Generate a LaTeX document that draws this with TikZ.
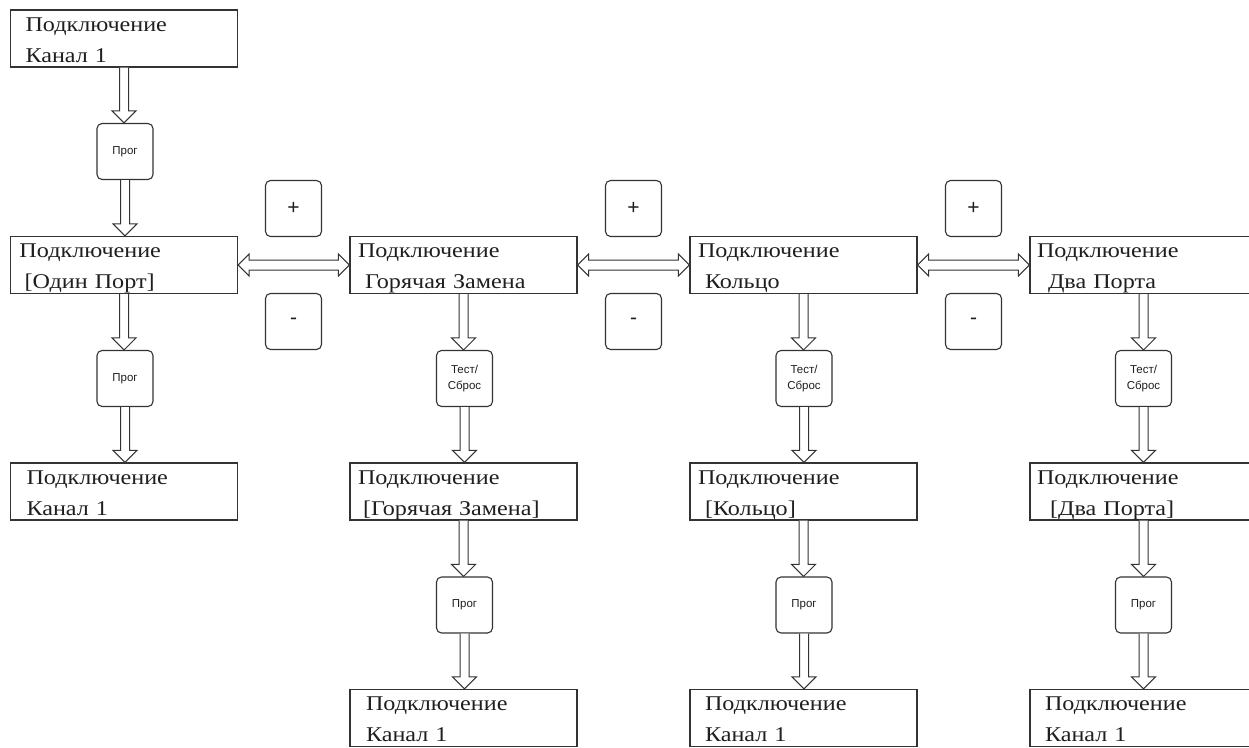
\documentclass[tikz,border=0pt]{standalone}
\usepackage{fontspec}
\setmainfont{Liberation Serif}
\newfontfamily\boxfont[FakeStretch=1.15]{Liberation Serif}
\newfontfamily\smallfont{Liberation Sans}
\usetikzlibrary{calc}
\definecolor{linec}{gray}{0.2}
\definecolor{textc}{gray}{0.12}
\tikzset{
  bigbox/.style={draw=linec, line width=1.2pt, rectangle, minimum width=227pt,
    minimum height=57pt, inner xsep=0pt, inner ysep=0pt, text width=227pt,
    align=left, font=\boxfont\fontsize{21}{31}\selectfont, text=textc},
  keybox/.style={draw=linec, line width=1.1pt, rounded corners=5pt, rectangle,
    minimum width=56pt, minimum height=56pt, inner sep=0pt, align=center,
    font=\smallfont\fontsize{11.5}{16}\selectfont, text=textc},
  pmbox/.style={keybox, font=\smallfont\fontsize{21}{21}\selectfont},
  blockarrow/.style={draw=linec, line width=1pt, fill=white},
}
\newcommand\bl[4]{\rule{0pt}{21pt}\hspace*{#1pt}Подключение\\\hspace*{#3pt}#4\rule[-5pt]{0pt}{5pt}}
\newcommand\varrow[2]{\draw[blockarrow] let \p1=(#1.south), \p2=(#2.north) in
  (\x1-4.5pt,\y1) -- (\x1-4.5pt,\y2+12pt) -- (\x1-12pt,\y2+12pt) -- (\x1,\y2)
  -- (\x1+12pt,\y2+12pt) -- (\x1+4.5pt,\y2+12pt) -- (\x1+4.5pt,\y1);}
\newcommand\harrow[2]{\draw[blockarrow] let \p1=(#1.east), \p2=(#2.west) in
  (\x1,\y1) -- (\x1+11pt,\y1+11pt) -- (\x1+11pt,\y1+5pt) -- (\x2-11pt,\y1+5pt)
  -- (\x2-11pt,\y1+11pt) -- (\x2,\y1) -- (\x2-11pt,\y1-11pt) -- (\x2-11pt,\y1-5pt)
  -- (\x1+11pt,\y1-5pt) -- (\x1+11pt,\y1-11pt) -- cycle;}
\begin{document}
\begin{tikzpicture}[x=1pt,y=-1pt]
\useasboundingbox[fill=white] (0,0) rectangle (1249,747);
% column 1
\node[bigbox] (a0) at (124,38.5) {\bl{15}{}{15}{Канал 1}};
\node[keybox] (p1) at (125,151.5) {Прог};
\node[bigbox] (a1) at (124,265) {\bl{9}{}{14}{[Один Порт]}};
\node[keybox] (p2) at (125,378.5) {Прог};
\node[bigbox] (a2) at (124,491.5) {\bl{16}{}{16}{Канал 1}};
% column 2
\node[bigbox] (b1) at (463.5,265) {\bl{8}{}{15}{Горячая Замена}};
\node[keybox] (t2) at (464.5,378.5) {Тест/\\Сброс};
\node[bigbox] (b2) at (463.5,491.5) {\bl{8}{}{13}{[Горячая Замена]}};
\node[keybox] (q2) at (464.5,605) {Прог};
\node[bigbox] (b3) at (463.5,718) {\bl{16}{}{16}{Канал 1}};
% column 3
\node[bigbox] (c1) at (803.5,265) {\bl{8}{}{15}{Кольцо}};
\node[keybox] (t3) at (804,378.5) {Тест/\\Сброс};
\node[bigbox] (c2) at (803.5,491.5) {\bl{8}{}{15}{[Кольцо]}};
\node[keybox] (q3) at (804,605) {Прог};
\node[bigbox] (c3) at (803.5,718) {\bl{15}{}{15}{Канал 1}};
% column 4
\node[bigbox] (d1) at (1143.5,265) {\bl{7}{}{18}{Два Порта}};
\node[keybox] (t4) at (1143.5,378.5) {Тест/\\Сброс};
\node[bigbox] (d2) at (1143.5,491.5) {\bl{7}{}{20}{[Два Порта]}};
\node[keybox] (q4) at (1143.5,605) {Прог};
\node[bigbox] (d3) at (1143.5,718) {\bl{15}{}{15}{Канал 1}};
% plus / minus keys
\node[pmbox] (plus1) at (293.5,208.5) {+};
\node[pmbox] (minus1) at (293.5,321.5) {-};
\node[pmbox] (plus2) at (633.5,208.5) {+};
\node[pmbox] (minus2) at (633.5,321.5) {-};
\node[pmbox] (plus3) at (973.5,208.5) {+};
\node[pmbox] (minus3) at (973.5,321.5) {-};
% arrows
\varrow{a0}{p1}
\varrow{p1}{a1}
\varrow{a1}{p2}
\varrow{p2}{a2}
\varrow{b1}{t2}
\varrow{t2}{b2}
\varrow{b2}{q2}
\varrow{q2}{b3}
\varrow{c1}{t3}
\varrow{t3}{c2}
\varrow{c2}{q3}
\varrow{q3}{c3}
\varrow{d1}{t4}
\varrow{t4}{d2}
\varrow{d2}{q4}
\varrow{q4}{d3}
\harrow{a1}{b1}
\harrow{b1}{c1}
\harrow{c1}{d1}
\end{tikzpicture}
\end{document}
